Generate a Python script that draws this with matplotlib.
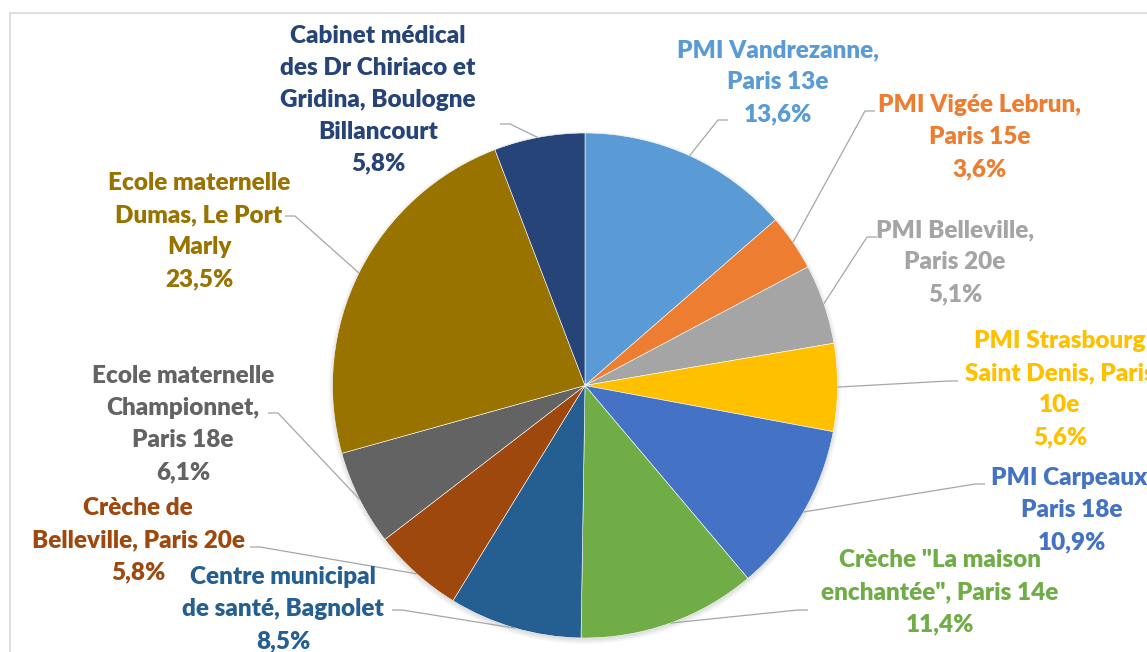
import numpy as np
import matplotlib
matplotlib.use('Agg')
import matplotlib.pyplot as plt
from matplotlib.patches import Rectangle, Circle

# donnees du graphique
noms = [
    'PMI Vandrezanne,\nParis 13e',
    'PMI Vigée Lebrun,\nParis 15e',
    'PMI Belleville,\nParis 20e',
    'PMI Strasbourg\nSaint Denis, Paris\n10e',
    'PMI Carpeaux,\nParis 18e',
    'Crèche "La maison\nenchantée", Paris 14e',
    'Centre municipal\nde santé, Bagnolet',
    'Crèche de\nBelleville, Paris 20e',
    'Ecole maternelle\nChampionnet,\nParis 18e',
    'Ecole maternelle\nDumas, Le Port\nMarly',
    'Cabinet médical\ndes Dr Chiriaco et\nGridina, Boulogne\nBillancourt',
]
valeurs = [13.6, 3.6, 5.1, 5.6, 10.9, 11.4, 8.5, 5.8, 6.1, 23.5, 5.8]
couleurs = ['#5B9BD5', '#ED7D31', '#A5A5A5', '#FFC000', '#4472C4', '#70AD47',
            '#255E91', '#9E480E', '#636363', '#997300', '#264478']

# mise en page (pixels, origine en haut a gauche)
W, H = 1147, 652
cx, cy, R = 585, 385.5, 252.5
pos_label = [(778, 82), (980, 137), (955, 262), (1060, 389), (1072, 510),
             (940, 592), (283, 609), (138, 540), (183, 424), (199, 231),
             (378, 100)]
pos_trait = [(728, 120), (875, 111), (877, 237), (958, 381), (985, 484),
             (808, 610), (392, 610), (250, 547), (268, 413), (285, 216),
             (500, 124)]

fig = plt.figure(figsize=(W / 100, H / 100), dpi=100)
ax = fig.add_axes([0, 0, 1, 1])

# cadre du graphique
ax.add_patch(Rectangle((10, -50), W + 100, H - 13 + 50, fill=False,
                       edgecolor='#D9D9D9', linewidth=1.2))

# ombre legere
for k in range(6):
    ax.add_patch(Circle((cx, H - cy - 2), R + 4 - k, color='black',
                        alpha=0.025, linewidth=0))

ax.pie(valeurs, colors=couleurs, startangle=90, counterclock=False,
       center=(cx, H - cy), radius=R, frame=True,
       wedgeprops=dict(edgecolor='white', linewidth=0.4))
ax.set_xlim(0, W)
ax.set_ylim(0, H)
ax.set_aspect('equal')
ax.axis('off')

cumul = np.cumsum(valeurs)
for i, nom in enumerate(noms):
    milieu = (cumul[i] - valeurs[i] / 2) / 100 * 2 * np.pi
    ex = cx + R * np.sin(milieu)
    ey = cy - R * np.cos(milieu)
    tx, ty = pos_trait[i]
    dx = -10 if tx > cx else 10
    ax.plot([tx, tx + dx, ex], [H - ty, H - ty, H - ey], color='#A6A6A6',
            linewidth=0.9, solid_capstyle='butt', zorder=1)
    texte = nom + '\n' + f'{valeurs[i]:.1f}%'.replace('.', ',')
    lx, ly = pos_label[i]
    ax.text(lx, H - ly, texte, ha='center', va='center', color=couleurs[i],
            fontsize=17.5, fontweight='heavy', family='Lato', linespacing=1.55,
            zorder=5)

fig.savefig('out.png', dpi=100)
